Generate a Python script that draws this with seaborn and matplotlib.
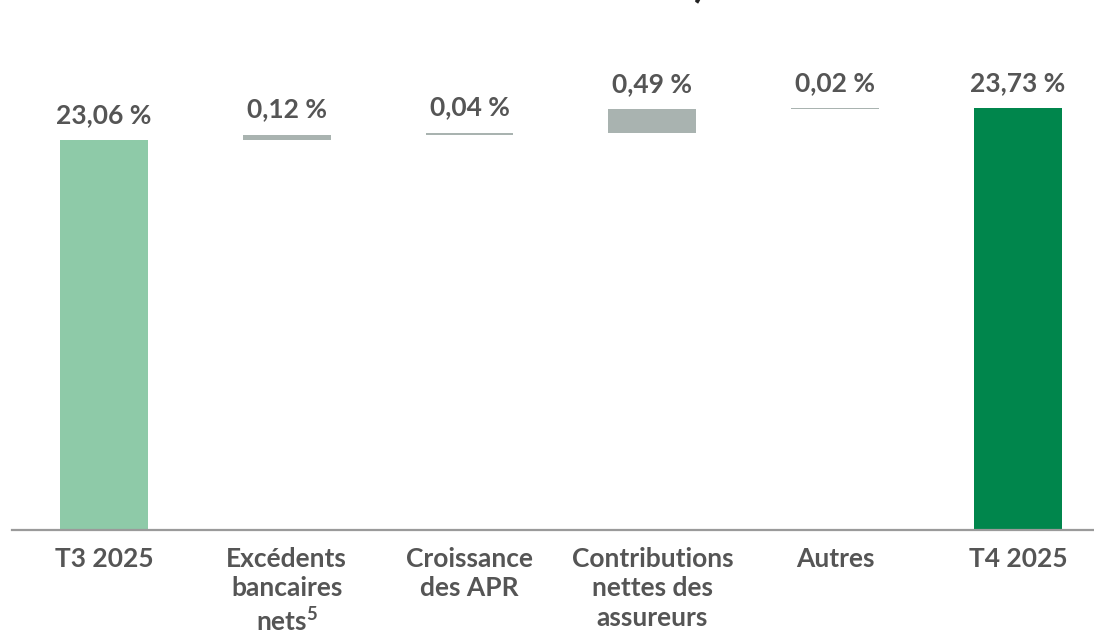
import seaborn as sns
import matplotlib.pyplot as plt
import numpy as np
import pandas as pd

# data
categories = ["T3 2025", "Excédents\nbancaires\nnets$^5$", "Croissance\ndes APR",
              "Contributions\nnettes des\nassureurs", "Autres", "T4 2025"]
start_value = 23.06
deltas = [0.12, 0.04, 0.49, 0.02]
end_value = 23.73

colors = ["#8ecaa8", "#a9b3b0", "#a9b3b0", "#a9b3b0", "#a9b3b0", "#00864c"]
text_color = "#555555"


def apply_style():
    sns.set_theme(style="white")
    plt.rcParams['font.family'] = ['Lato', 'DejaVu Sans']
    plt.rcParams['font.weight'] = 'bold'
    plt.rcParams['mathtext.fontset'] = 'custom'
    plt.rcParams['mathtext.rm'] = 'Lato:bold'
    plt.rcParams['mathtext.bf'] = 'Lato:bold'
    plt.rcParams['mathtext.it'] = 'Lato:bold'


def waterfall(df):
    fig = plt.figure(figsize=(10.94, 6.36), dpi=100)
    ax = fig.add_axes([12 / 1094, 106 / 636, 1 - 12 / 1094, 530 / 636])

    sns.barplot(df, x="label", y="height", bottom=df["bottom"].to_numpy(),
                color=colors[1], saturation=1, width=0.48, ax=ax, errorbar=None)
    for p, c in zip(ax.patches, colors):
        p.set_facecolor(c)
        p.set_edgecolor("none")

    for p, v in zip(ax.patches, df["value"]):
        top = p.get_y() + p.get_height()
        ax.annotate(f"{v:.2f}".replace(".", ",") + " %",
                    (p.get_x() + p.get_width() / 2, top),
                    xytext=(0, 12.5), textcoords="offset points",
                    ha="center", va="baseline", fontsize=19,
                    fontweight="bold", color=text_color)

    ax.set_ylim(14.9, 26.0)
    ax.set_xlim(-0.503, 5.416)
    ax.set_yticks([])
    ax.set_xlabel("")
    ax.set_ylabel("")
    for s in ["top", "left", "right"]:
        ax.spines[s].set_visible(False)
    ax.spines["bottom"].set_color("#9a9a9a")
    ax.spines["bottom"].set_linewidth(1.6)
    ax.tick_params(axis="x", length=0, pad=12, labelsize=19, labelcolor=text_color)
    for t in ax.get_xticklabels():
        t.set_fontweight("bold")
        t.set_multialignment("center")
        t.set_linespacing(1.28)

    # cropped title fragment at the top edge
    fig.text(700 / 1094, 1 + 4 / 636, ")", fontsize=30, fontweight="bold",
             color="#222222", ha="center", va="baseline")

    fig.savefig("out.png", dpi=100)


apply_style()

cum = np.cumsum([start_value] + deltas)
bottoms = [0] + list(cum[:-1]) + [0]
heights = [start_value] + deltas + [end_value]
values = [start_value] + deltas + [end_value]
df = pd.DataFrame({"label": categories, "bottom": bottoms,
                   "height": heights, "value": values})
waterfall(df)
